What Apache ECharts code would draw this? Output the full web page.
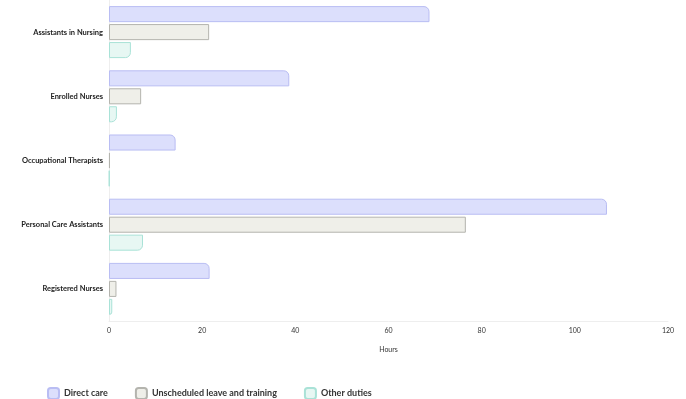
<!DOCTYPE html>
<html>
<head>
<meta charset="utf-8">
<script src="https://cdn.jsdelivr.net/npm/echarts@6/dist/echarts.min.js"></script>
<style>
  html, body { margin: 0; padding: 0; background: #ffffff; }
  #chart { width: 686px; height: 399px; }
</style>
</head>
<body>
<div id="chart"></div>
<script>
// Workforce roles, top to bottom
const roles = [
  'Assistants in Nursing',
  'Enrolled Nurses',
  'Occupational Therapists',
  'Personal Care Assistants',
  'Registered Nurses'
];

// Hours per role for each duty type
const directCare = [68.8, 38.7, 14.3, 106.9, 21.6];
const unscheduledLeave = [21.5, 6.9, 0.2, 76.6, 1.6];
const otherDuties = [4.7, 1.7, 0.1, 7.3, 0.7];

const hourTicks = [0, 20, 40, 60, 80, 100, 120];

const FONT = 'Lato, "Noto Sans", sans-serif';

const chart = echarts.init(document.getElementById('chart'), null, { renderer: 'canvas' });

function barSeries(name, data, fill, border, radius) {
  return {
    name: name,
    type: 'bar',
    data: data,
    barCategoryGap: '19%',
    barGap: '12%',
    itemStyle: {
      color: fill,
      borderColor: border,
      borderWidth: 1,
      borderRadius: radius
    },
    emphasis: { disabled: true }
  };
}

chart.setOption({
  animation: false,
  backgroundColor: '#ffffff',
  grid: { left: 109, right: 18, top: 0, bottom: 78, containLabel: false },
  legend: {
    left: 42,
    top: 382,
    padding: 5,
    itemWidth: 11,
    itemHeight: 11,
    itemGap: 27,
    icon: 'roundRect',
    textStyle: { fontFamily: FONT, fontSize: 9, fontWeight: 'bold', color: '#333333' },
    data: ['Direct care', 'Unscheduled leave and training', 'Other duties']
  },
  xAxis: {
    type: 'value',
    min: hourTicks[0],
    max: hourTicks[hourTicks.length - 1],
    interval: hourTicks[1] - hourTicks[0],
    name: 'Hours',
    nameLocation: 'middle',
    nameGap: 25,
    nameTextStyle: { fontFamily: FONT, fontSize: 7, color: '#333333' },
    axisLine: { show: true, lineStyle: { color: '#eeeeee', width: 1 } },
    axisTick: { show: false },
    splitLine: { show: false },
    axisLabel: { fontFamily: FONT, fontSize: 7, color: '#333333', margin: 6 }
  },
  yAxis: {
    type: 'category',
    data: roles,
    inverse: true,
    axisLine: { show: true, lineStyle: { color: '#eeeeee', width: 1 } },
    axisTick: { show: false },
    splitLine: { show: false },
    axisLabel: { fontFamily: FONT, fontSize: 7.5, fontWeight: 'bold', color: '#222222', margin: 6 }
  },
  series: [
    barSeries('Direct care', directCare, '#dcdffc', '#b9bdf3', [0, 5, 0, 0]),
    barSeries('Unscheduled leave and training', unscheduledLeave, '#efefe9', '#b4b4ae', 0),
    barSeries('Other duties', otherDuties, '#e7f7f3', '#a9e2d7', [0, 0, 5, 0])
  ]
});
</script>
</body>
</html>
